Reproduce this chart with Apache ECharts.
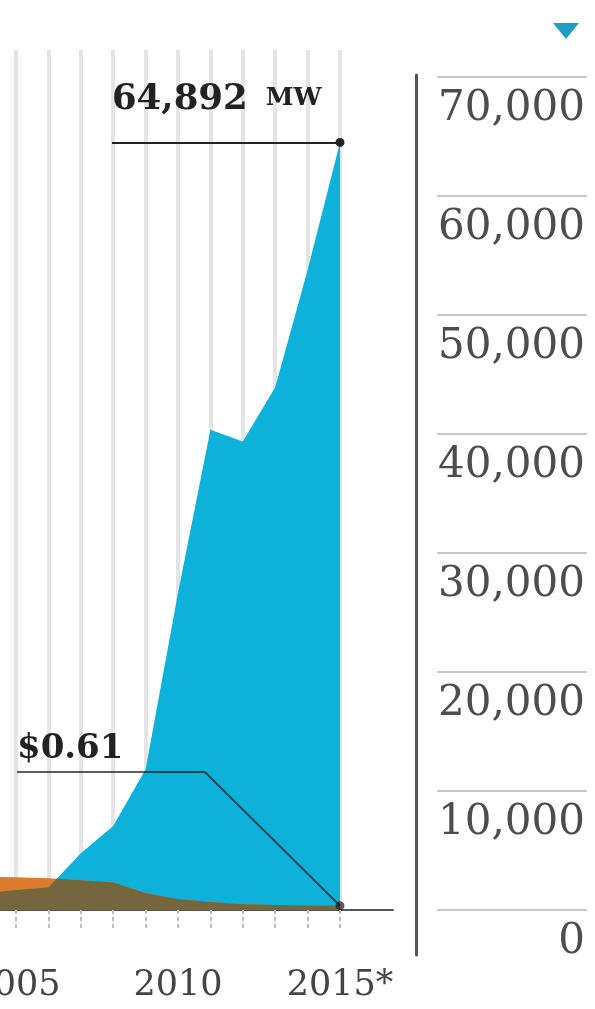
<!DOCTYPE html>
<html><head><meta charset="utf-8">
<script src="https://cdn.jsdelivr.net/npm/echarts@6/dist/echarts.min.js"></script>
<style>html,body{margin:0;padding:0;background:#fff;overflow:hidden}#c{width:595px;height:1009px}</style>
</head><body><div id="c"></div>
<script>
// ---- data ----
const years = [2004, 2005, 2006, 2007, 2008, 2009, 2010, 2011, 2012, 2013, 2014, 2015];
const capacityMW = [1400, 1700, 1900, 4800, 7100, 11900, 26800, 40600, 39600, 44200, 54100, 64892];
const priceUSD = [4.8, 4.75, 4.6, 4.3, 4.0, 2.45, 1.6, 1.15, 0.85, 0.72, 0.65, 0.61];
const yearLabelValues = [2005, 2010, 2015];
const yearLabelTexts = ['2005', '2010', '2015*'];
const capacityTickLabels = ['0', '10,000', '20,000', '30,000', '40,000', '50,000', '60,000', '70,000'];

const CAP_MAX = 70000, PRICE_MAX = 120;

// overlap of the two areas (pointwise min, incl. crossings), in price units
function overlap(xs, a, b) {
  const out = [];
  for (let i = 0; i < xs.length; i++) {
    out.push([xs[i], Math.min(a[i], b[i])]);
    if (i < xs.length - 1) {
      const d0 = a[i] - b[i], d1 = a[i + 1] - b[i + 1];
      if (d0 * d1 < 0) {
        const t = d0 / (d0 - d1);
        out.push([xs[i] + t * (xs[i + 1] - xs[i]), a[i] + t * (a[i + 1] - a[i])]);
      }
    }
  }
  return out;
}
const capInPrice = capacityMW.map(v => v * PRICE_MAX / CAP_MAX);
const overlapData = overlap(years, priceUSD, capInPrice);

const last = years.length - 1;
const capText = capacityMW[last].toLocaleString('en-US');
const priceText = '$' + priceUSD[last].toFixed(2);

const FONT = 'DejaVu Serif';
const X0 = -16.4, PLOT_W = 356.4;
const NB = 'none';

const chart = echarts.init(document.getElementById('c'), null, {renderer: 'canvas'});
chart.setOption({
  animation: false,
  backgroundColor: '#fff',
  grid: [
    {left: X0, width: PLOT_W, top: 82, height: 828, outerBoundsMode: NB, containLabel: false},   // data
    {left: X0, width: PLOT_W, top: 50, height: 860, outerBoundsMode: NB, containLabel: false},   // background year grid
    {left: 0, width: 393, top: 77, height: 833, outerBoundsMode: NB, containLabel: false},       // frame
    {left: 416, width: 2, top: 75, height: 880, outerBoundsMode: NB, containLabel: false}        // right rule
  ],
  xAxis: [
    {gridIndex: 0, type: 'value', min: 2004, max: 2015, show: false},
    {gridIndex: 1, type: 'value', min: 2004, max: 2015, interval: 1, position: 'bottom', offset: 22,
     axisLine: {show: false},
     axisTick: {show: true, length: 18, lineStyle: {color: '#bdbdbd', width: 2, type: [4, 3]}},
     splitLine: {show: true, lineStyle: {color: '#e4e4e4', width: 4}},
     axisLabel: {show: true, margin: 36, fontFamily: FONT, fontSize: 35, color: '#444',
       formatter: v => { const k = yearLabelValues.indexOf(v); return k < 0 ? '' : yearLabelTexts[k]; }}},
    {gridIndex: 2, type: 'value', min: 0, max: 1,
     axisLine: {show: true, lineStyle: {color: '#555', width: 2}},
     axisTick: {show: false}, axisLabel: {show: false}, splitLine: {show: false}},
    {gridIndex: 3, type: 'value', show: false}
  ],
  yAxis: [
    {gridIndex: 0, type: 'value', min: 0, max: CAP_MAX, show: false},
    {gridIndex: 0, type: 'value', min: 0, max: PRICE_MAX, show: false},
    {gridIndex: 1, type: 'value', show: false},
    {gridIndex: 2, type: 'value', position: 'right', min: 0, max: CAP_MAX, interval: 10000,
     axisLine: {show: false},
     axisTick: {show: true, inside: true, length: 13, lineStyle: {color: '#c4c4c4', width: 2}},
     axisLabel: {show: false}, splitLine: {show: false}},
    {gridIndex: 2, type: 'value', position: 'right', offset: 44, min: 0, max: CAP_MAX, interval: 10000,
     axisLine: {show: false},
     axisTick: {show: true, length: 150, lineStyle: {color: '#c8c8c8', width: 2}},
     splitLine: {show: false},
     axisLabel: {show: true, margin: 148, align: 'right', verticalAlign: 'top', padding: [11, 0, 0, 0],
       lineHeight: 42, fontFamily: FONT, fontSize: 42, color: '#4d4d4d',
       formatter: v => capacityTickLabels[Math.round(v / 10000)]}},
    {gridIndex: 3, type: 'value', position: 'left', min: 0, max: 1,
     axisLine: {show: true, lineStyle: {color: '#555', width: 3}},
     axisTick: {show: false}, axisLabel: {show: false}, splitLine: {show: false}}
  ],
  series: [
    {
      type: 'line', xAxisIndex: 0, yAxisIndex: 0, z: 3,
      data: years.map((y, i) => [y, capacityMW[i]]),
      showSymbol: false, symbol: 'none',
      lineStyle: {width: 0}, areaStyle: {color: '#0db2da', opacity: 1},
      markLine: {
        silent: true, symbolSize: 9, z: 10,
        lineStyle: {color: '#222', width: 2, type: 'solid'},
        data: [[
          {coord: [2007.96, capacityMW[last]], symbol: 'none',
           label: {show: true, position: 'insideStartTop', distance: [0, 25],
             formatter: '{a|' + capText + '}{b|MW}',
             rich: {a: {fontFamily: FONT, fontWeight: 'bold', fontSize: 35.5, color: '#222'},
                    b: {fontFamily: FONT, fontWeight: 'bold', fontSize: 25, color: '#222', padding: [0, 0, 2, 18]}}}},
          {coord: [years[last], capacityMW[last]], symbol: 'circle'}
        ]]
      }
    },
    {
      type: 'line', xAxisIndex: 0, yAxisIndex: 1, z: 4,
      data: years.map((y, i) => [y, priceUSD[i]]),
      showSymbol: false, symbol: 'none',
      lineStyle: {width: 0}, areaStyle: {color: '#dc7a2d', opacity: 1}
    },
    {
      type: 'line', xAxisIndex: 0, yAxisIndex: 1, z: 5,
      data: overlapData,
      showSymbol: false, symbol: 'none',
      lineStyle: {width: 0}, areaStyle: {color: '#74673d', opacity: 1},
      markLine: {
        silent: true, symbolSize: 9, z: 10,
        lineStyle: {color: 'rgba(25,25,25,0.7)', width: 2, type: 'solid'},
        data: [
          [
            {coord: [2005.03, 20.0], symbol: 'none',
             label: {show: true, position: 'insideStartTop', distance: [0, 6],
               formatter: priceText, fontFamily: FONT, fontWeight: 'bold', fontSize: 34, color: '#222'}},
            {coord: [2010.83, 20.0], symbol: 'none'}
          ],
          [
            {coord: [2010.83, 20.0], symbol: 'none', label: {show: false}},
            {coord: [years[last], priceUSD[last]], symbol: 'circle'}
          ]
        ]
      }
    }
  ],
  graphic: [
    {type: 'polygon', shape: {points: [[553, 23], [579, 23], [566, 39]]}, style: {fill: '#1c9fc3'}}
  ]
});
</script></body></html>
